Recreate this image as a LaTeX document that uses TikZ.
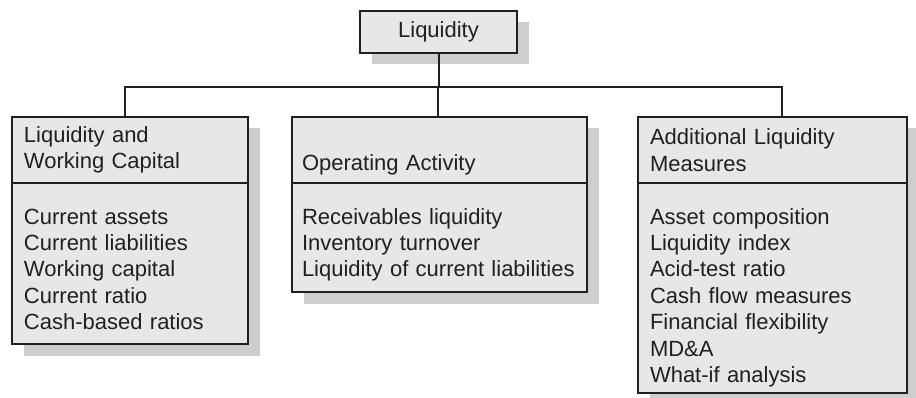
\documentclass[tikz,border=0pt]{standalone}
\usepackage{fontspec}
\setmainfont{Liberation Sans}
\usepackage{tikz}
\usetikzlibrary{positioning, shadows}
\usepackage{xcolor}
\definecolor{lqFill}  {HTML}{E6E7E8}
\definecolor{lqShadow}{HTML}{CDCED0}
\definecolor{lqLine}  {HTML}{231F20}
\hyphenpenalty=10000

\begin{document}
\begin{tikzpicture}[x=0.5pt, y=0.5pt,
    box/.style={draw=lqLine, line width=1.2pt, fill=lqFill, outer sep=0pt,
      inner xsep=6pt, inner ysep=3pt, align=left, text=lqLine,
      font=\fontsize{11}{13.2}\selectfont,
      drop shadow={shadow xshift=5.75pt, shadow yshift=-5.75pt,
                   fill=lqShadow, opacity=1}},
    headbox/.style={box, minimum height=33pt, anchor=north west},
    listbox/.style={box, text height=17.5pt},
    link/.style={draw=lqLine, line width=1pt}]
    \useasboundingbox (0,0) rectangle (916,397);

    % Root
    \node[box, minimum width=78.5pt, minimum height=21pt] (liq) at (438.5,365) {Liquidity};

    % Liquidity and working capital
    \node[headbox, text width=106pt] (wc) at (12,280) {Liquidity and\\Working Capital};
    \node[listbox, text width=106pt, text depth=57pt, below=0pt of wc] (wcList)
      {Current assets\\Current liabilities\\Working capital\\Current ratio\\Cash-based ratios};

    % Operating activity
    \node[headbox, inner xsep=5pt, text width=137.5pt] (op) at (292,280) {\strut\\Operating Activity};
    \node[listbox, inner xsep=5pt, text width=137.5pt, text depth=31pt, below=0pt of op] (opList)
      {Receivables liquidity\\Inventory turnover\\Liquidity of current liabilities};

    % Additional measures
    \node[headbox, text width=122.5pt] (ad) at (638,280) {Additional Liquidity\\Measures};
    \node[listbox, text width=122.5pt, text depth=81.5pt, below=0pt of ad] (adList)
      {Asset composition\\Liquidity index\\Acid-test ratio\\Cash flow measures\\Financial flexibility\\MD\&A\\What-if analysis};

    % Tree lines
    \coordinate (bus) at (0,310);
    \draw[link] (liq.south) -- (liq.south |- bus);
    \draw[link] ([xshift=-2.5pt]wc.north) -- ([xshift=-2.5pt]wc.north |- bus) -| ([xshift=4.5pt]ad.north);
    \draw[link] ([xshift=-1pt]op.north) -- ([xshift=-1pt]op.north |- bus);
\end{tikzpicture}
\end{document}
